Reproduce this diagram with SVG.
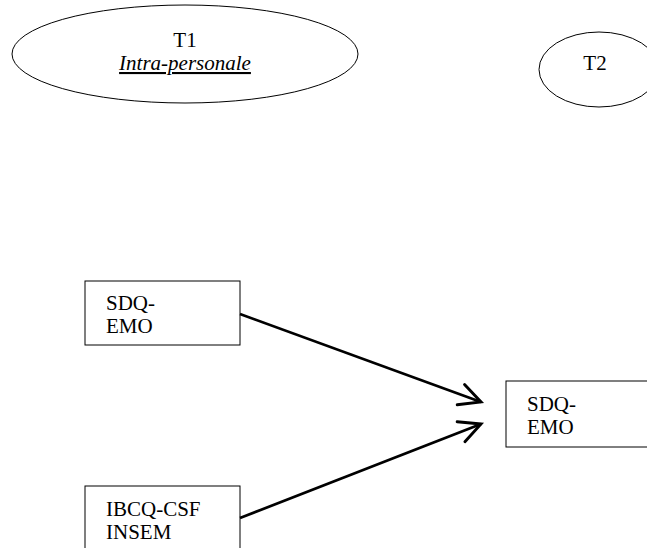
<svg xmlns="http://www.w3.org/2000/svg" width="647" height="548" viewBox="0 0 647 548">
  <style>
    .shape { fill: #ffffff; stroke: #000000; stroke-width: 1; }
    .label { font-family: "Liberation Serif", "Times New Roman", serif; font-size: 21px; fill: #000000; }
    .em { font-style: italic; text-decoration: underline; }
    .link { fill: none; stroke: #000000; stroke-width: 2.7; }
  </style>
  <defs>
    <marker id="open-arrow" markerUnits="userSpaceOnUse" markerWidth="30" markerHeight="30" refX="0" refY="0" viewBox="-24 -13 28 26" orient="auto" overflow="visible">
      <path d="M -20 -10 L 0 0 L -20 10" fill="none" stroke="#000000" stroke-width="2.7" stroke-linecap="round" stroke-linejoin="miter"/>
    </marker>
  </defs>
  <rect width="647" height="548" fill="#ffffff"/>

  <g id="node-t1">
    <ellipse class="shape" cx="185" cy="54" rx="173" ry="49"/>
    <text class="label" x="185" y="47" text-anchor="middle">T1</text>
    <text class="label em" x="185" y="70" text-anchor="middle">Intra-personale</text>
  </g>

  <g id="node-t2">
    <ellipse class="shape" cx="599" cy="69.5" rx="60" ry="37.5"/>
    <text class="label" x="595" y="69.5" text-anchor="middle">T2</text>
  </g>

  <g id="node-sdq-emo-t1">
    <rect class="shape" x="85" y="281" width="155" height="64"/>
    <text class="label" x="106" y="310">SDQ-</text>
    <text class="label" x="106" y="333">EMO</text>
  </g>

  <g id="node-ibcq">
    <rect class="shape" x="85" y="486" width="155" height="66"/>
    <text class="label" x="106" y="516">IBCQ-CSF</text>
    <text class="label" x="106" y="539">INSEM</text>
  </g>

  <g id="node-sdq-emo-t2">
    <rect class="shape" x="506" y="381" width="160" height="66"/>
    <text class="label" x="527" y="411">SDQ-</text>
    <text class="label" x="527" y="434">EMO</text>
  </g>

  <g id="connectors">
    <line class="link" x1="240" y1="314" x2="481" y2="402" marker-end="url(#open-arrow)"/>
    <line class="link" x1="240" y1="518" x2="481" y2="424" marker-end="url(#open-arrow)"/>
  </g>
</svg>
